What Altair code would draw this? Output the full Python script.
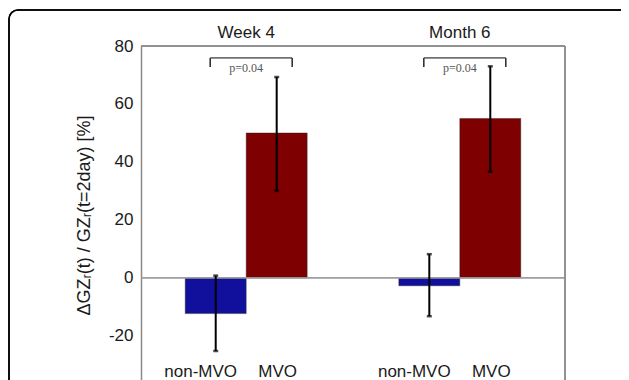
import altair as alt
import pandas as pd

# ---- data ----
periods = ["Week 4", "Week 4", "Month 6", "Month 6"]
groups = ["non-MVO", "MVO", "non-MVO", "MVO"]
means = [-12.3, 50.0, -2.7, 55.0]
err_lo = [-25.2, 30.0, -13.2, 36.6]
err_hi = [0.8, 69.3, 8.2, 73.0]

period_order = ["Week 4", "Month 6"]
group_order = ["non-MVO", "MVO"]
bar_colors = ["#10109c", "#7e0000"]
p_labels = ["p=0.04", "p=0.04"]
y_ticks = [-20, 0, 20, 40, 60, 80]

df = pd.DataFrame({"period": periods, "group": groups, "value": means,
                   "lo": err_lo, "hi": err_hi})
df["label_y"] = -32.3
pdf = pd.DataFrame({"period": period_order, "p": p_labels,
                    "top": [75.9, 75.9], "leg": [72.8, 72.8], "ty": [72.4, 72.4]})

FONT = "Liberation Sans"
W, H = 424, 334

xscale = alt.Scale(domain=period_order, paddingInner=0.429, paddingOuter=0.207)
yscale = alt.Scale(domain=[-35.2, 80], nice=False, zero=False)
x_axis = alt.Axis(orient="top", title=None, domain=False, ticks=False,
                  labelAngle=0, labelFontSize=17, labelFont=FONT,
                  labelColor="#1a1a1a", labelPadding=5)
y_axis = alt.Axis(values=y_ticks, ticks=False, grid=False,
                  domainColor="#8a8a8a", domainWidth=1.5,
                  labelFontSize=17, labelFont=FONT, labelColor="#1a1a1a",
                  labelPadding=8, labelExpr="'' + datum.value",
                  title="ΔGZᵣ(t) / GZᵣ(t=2day) [%]",
                  titleFont=FONT, titleFontSize=18, titleFontWeight="normal",
                  titleColor="#1a1a1a", titleAngle=-90, titleAlign="center",
                  titleBaseline="middle", titleX=-57, titleY=169)


def X():
    return alt.X("period:N", scale=xscale, sort=period_order, axis=x_axis)


def Y(field):
    return alt.Y(f"{field}:Q", scale=yscale, axis=y_axis)


xo = alt.XOffset("group:N", sort=group_order)
base = alt.Chart(df)

bars = base.mark_bar(stroke="#202020", strokeWidth=0.4).encode(
    x=X(), xOffset=xo, y=Y("value"), y2=alt.datum(0),
    color=alt.Color("group:N", scale=alt.Scale(domain=group_order, range=bar_colors),
                    legend=None))

frame = alt.Chart(pdf).mark_rect(filled=False, stroke="black", strokeWidth=1.5,
                                 cornerRadius=9).encode(
    x=alt.value(-132), x2=alt.value(700), y=alt.value(-36), y2=alt.value(500))

zero = alt.Chart(pdf).mark_rule(color="#9a9a9a", strokeWidth=1.2).encode(
    y=alt.Y(datum=0, scale=yscale, axis=y_axis))
top_border = alt.Chart(pdf).mark_rule(color="#8a8a8a", strokeWidth=1.5).encode(
    y=alt.value(0))
right_border = alt.Chart(pdf).mark_rule(color="#8a8a8a", strokeWidth=1.5).encode(
    x=alt.value(W))

err = base.mark_rule(color="black", strokeWidth=2).encode(
    x=X(), xOffset=xo, y=Y("lo"), y2="hi:Q")
cap_lo = base.mark_tick(color="black", size=5, thickness=2.5, orient="horizontal").encode(
    x=X(), xOffset=xo, y=Y("lo"))
cap_hi = base.mark_tick(color="black", size=5, thickness=2.5, orient="horizontal").encode(
    x=X(), xOffset=xo, y=Y("hi"))

lab_non = base.transform_filter(alt.datum.group == "non-MVO").mark_text(
    font=FONT, fontSize=17, color="#1a1a1a", dx=-15, baseline="middle").encode(
    x=X(), xOffset=xo, y=Y("label_y"), text="group:N")
lab_mvo = base.transform_filter(alt.datum.group == "MVO").mark_text(
    font=FONT, fontSize=17, color="#1a1a1a", dx=1, baseline="middle").encode(
    x=X(), xOffset=xo, y=Y("label_y"), text="group:N")

pb = alt.Chart(pdf)
br_top = pb.mark_tick(color="#333", size=82, thickness=1.6, orient="horizontal",
                      xOffset=5).encode(x=X(), y=Y("top"))
br_l = pb.mark_rule(color="#333", strokeWidth=1.6, xOffset=-36).encode(
    x=X(), y=Y("leg"), y2="top:Q")
br_r = pb.mark_rule(color="#333", strokeWidth=1.6, xOffset=46).encode(
    x=X(), y=Y("leg"), y2="top:Q")
ptxt = pb.mark_text(font="Liberation Serif", fontSize=12, color="#555",
                    baseline="middle").encode(x=X(), y=Y("ty"), text="p:N")

chart = alt.layer(
    bars, frame, zero, err, cap_lo, cap_hi, lab_non, lab_mvo,
    br_top, br_l, br_r, ptxt, top_border, right_border
).properties(
    width=W, height=H,
    autosize=alt.AutoSizeParams(type="none"),
    padding={"left": 133, "top": 38, "right": 56, "bottom": 0},
    background="white",
).configure_view(stroke=None)

chart.save("out.html", embed_options={"renderer": "svg", "actions": False})
